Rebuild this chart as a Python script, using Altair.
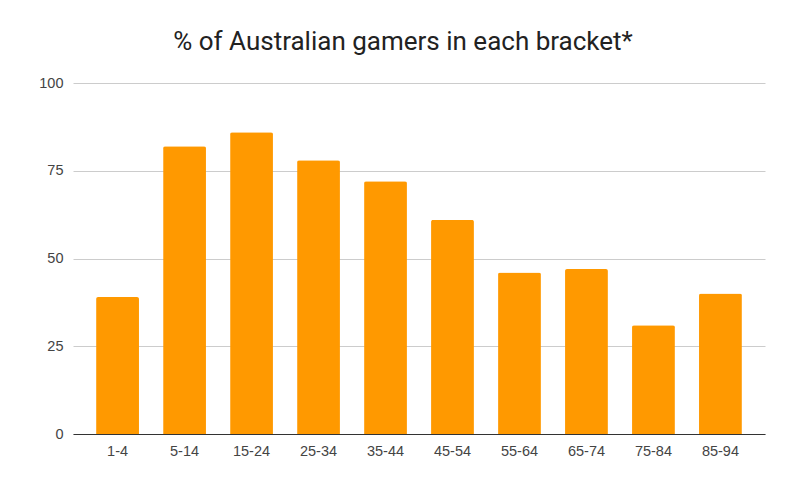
import altair as alt
import pandas as pd

brackets = ["1-4", "5-14", "15-24", "25-34", "35-44", "45-54", "55-64", "65-74", "75-84", "85-94"]
percent = [39, 82, 86, 78, 72, 61, 46, 47, 31, 40]
y_ticks = [0, 25, 50, 75, 100]
title_text = "% of Australian gamers in each bracket*"

df = pd.DataFrame({"bracket": brackets, "percent": percent})

label_font = "Liberation Sans"

chart = alt.Chart(df).mark_bar(
    color="#ff9900",
    cornerRadiusTopLeft=2,
    cornerRadiusTopRight=2,
).encode(
    x=alt.X(
        "bracket:N",
        sort=brackets,
        title=None,
        scale=alt.Scale(paddingInner=0.36, paddingOuter=0.345),
        axis=alt.Axis(
            labelAngle=0,
            ticks=False,
            domainColor="#333333",
            domainWidth=1,
            labelColor="#444444",
            labelFont=label_font,
            labelFontSize=14.5,
            labelPadding=10,
            grid=False,
        ),
    ),
    y=alt.Y(
        "percent:Q",
        title=None,
        scale=alt.Scale(domain=[0, 100], nice=False),
        axis=alt.Axis(
            values=y_ticks,
            domain=False,
            ticks=False,
            gridColor="#cccccc",
            gridWidth=1,
            labelColor="#444444",
            labelFont=label_font,
            labelFontSize=14.5,
            labelPadding=10,
        ),
    ),
).properties(
    width=692,
    height=351,
    title=alt.TitleParams(
        text=title_text,
        font="Roboto",
        fontSize=26,
        fontWeight="normal",
        color="#222222",
        anchor="middle",
        dx=-16,
        offset=20,
    ),
    autosize=alt.AutoSizeParams(type="none"),
    padding={"left": 65, "top": 75, "right": 12, "bottom": 40},
).configure(
    background="white",
    view=alt.ViewConfig(stroke=None),
)

chart.save("out.html", embed_options={"renderer": "svg", "actions": False})
